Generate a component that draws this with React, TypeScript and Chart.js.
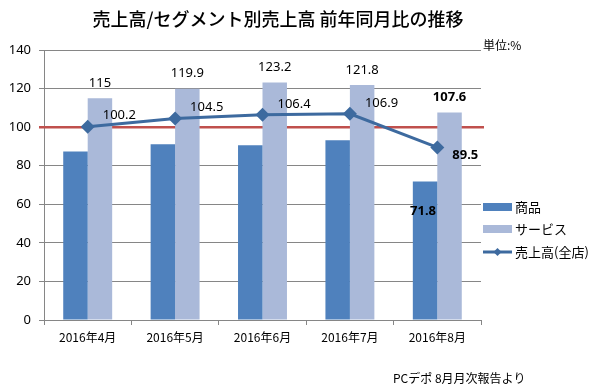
import React, { useEffect, useRef } from "react";
import { Chart, registerables } from "chart.js";

Chart.register(...registerables);

const categories = ["2016年4月", "2016年5月", "2016年6月", "2016年7月", "2016年8月"];
const goods = [87.4, 91.1, 90.6, 93.2, 71.8];
const services = [115, 119.9, 123.2, 121.8, 107.6];
const totalSales = [100.2, 104.5, 106.4, 106.9, 89.5];
const seriesNames = ["商品", "サービス", "売上高(全店)"];
const baseline = 100;
const titleText = "売上高/セグメント別売上高 前年同月比の推移";
const unitText = "単位:%";
const sourceText = "PCデポ 8月月次報告より";

const GOODS_COLOR = "#4f81bd";
const SERVICE_COLOR = "#aab9d9";
const LINE_COLOR = "#3d6a9f";
const RED = "#c0504d";
const JP = '"Noto Sans CJK JP", "Noto Sans", sans-serif';
const NUM = '"Noto Sans", "DejaVu Sans", sans-serif';

const decorPlugin = {
  id: "decor",
  beforeDatasetsDraw(chart: any) {
    const { ctx, chartArea, scales } = chart;
    const y = scales.y.getPixelForValue(baseline);
    ctx.save();
    ctx.strokeStyle = RED;
    ctx.lineWidth = 2.5;
    ctx.beginPath();
    ctx.moveTo(chartArea.left - 5, y);
    ctx.lineTo(chartArea.right + 3, y);
    ctx.stroke();
    ctx.restore();
  },
  afterDraw(chart: any) {
    const { ctx, chartArea } = chart;
    ctx.save();
    ctx.fillStyle = "#000";
    // title
    ctx.font = `500 18px ${JP}`;
    ctx.textAlign = "center";
    ctx.textBaseline = "middle";
    ctx.fillText(titleText, 270, 11);
    // unit
    ctx.font = `12px ${JP}`;
    ctx.textAlign = "left";
    ctx.fillText(unitText, chartArea.right + 2, chartArea.top - 5);
    // source
    ctx.fillText(sourceText, 385, 370);

    // data labels
    const metaL = chart.getDatasetMeta(0);
    const metaG = chart.getDatasetMeta(1);
    const metaS = chart.getDatasetMeta(2);
    ctx.textBaseline = "middle";
    services.forEach((v, i) => {
      const el = metaS.data[i];
      const last = i === services.length - 1;
      ctx.font = `${last ? "bold " : ""}13px ${NUM}`;
      ctx.textAlign = "center";
      ctx.fillText(String(v), el.x, el.y - 15);
    });
    totalSales.forEach((v, i) => {
      const el = metaL.data[i];
      const last = i === totalSales.length - 1;
      ctx.font = `${last ? "bold " : ""}13px ${NUM}`;
      ctx.textAlign = "left";
      ctx.fillText(String(v), el.x + 15, el.y + (last ? 8 : -11));
    });
    {
      const i = goods.length - 1;
      const el = metaG.data[i];
      ctx.font = `bold 13px ${NUM}`;
      ctx.textAlign = "center";
      ctx.fillText(String(goods[i]), el.x - 2, el.y + 30);
    }

    // legend
    const lx = chartArea.right + 2;
    const ys = [199, 221, 244];
    ctx.font = `13px ${JP}`;
    ctx.textAlign = "left";
    ctx.fillStyle = GOODS_COLOR;
    ctx.fillRect(lx, ys[0] - 4, 29, 8);
    ctx.fillStyle = SERVICE_COLOR;
    ctx.fillRect(lx, ys[1] - 4, 29, 8);
    ctx.strokeStyle = LINE_COLOR;
    ctx.lineWidth = 3;
    ctx.beginPath();
    ctx.moveTo(lx, ys[2]);
    ctx.lineTo(lx + 29, ys[2]);
    ctx.stroke();
    ctx.fillStyle = LINE_COLOR;
    const cx = lx + 14.5;
    ctx.beginPath();
    ctx.moveTo(cx, ys[2] - 4);
    ctx.lineTo(cx + 4, ys[2]);
    ctx.lineTo(cx, ys[2] + 4);
    ctx.lineTo(cx - 4, ys[2]);
    ctx.closePath();
    ctx.fill();
    ctx.fillStyle = "#000";
    seriesNames.forEach((n, k) => ctx.fillText(n, lx + 32, ys[k]));
    ctx.restore();
  },
};

export default function App() {
  const ref = useRef<HTMLCanvasElement | null>(null);
  useEffect(() => {
    if (!ref.current) return;
    const chart = new Chart(ref.current, {
      type: "bar",
      data: {
        labels: categories,
        datasets: [
          {
            type: "line",
            label: seriesNames[2],
            data: totalSales,
            borderColor: LINE_COLOR,
            backgroundColor: LINE_COLOR,
            borderWidth: 3,
            pointStyle: "rectRot",
            pointRadius: 7,
            pointBackgroundColor: LINE_COLOR,
            pointBorderWidth: 0,
            order: 0,
          } as any,
          {
            label: seriesNames[0],
            data: goods,
            backgroundColor: GOODS_COLOR,
            barPercentage: 1,
            categoryPercentage: 0.56,
            order: 1,
          },
          {
            label: seriesNames[1],
            data: services,
            backgroundColor: SERVICE_COLOR,
            barPercentage: 1,
            categoryPercentage: 0.56,
            order: 1,
          },
        ],
      },
      options: {
        animation: false,
        responsive: false,
        maintainAspectRatio: false,
        layout: { padding: { top: 42, right: 111, left: 0, bottom: 0 } },
        plugins: {
          legend: { display: false },
          title: { display: false },
          tooltip: { enabled: false },
        },
        scales: {
          x: {
            grid: {
              display: true,
              drawOnChartArea: false,
              drawTicks: true,
              tickLength: 5,
              color: "#868686",
              offset: true,
            },
            border: { display: true, color: "#868686", width: 1 },
            ticks: {
              color: "#000",
              font: { family: JP, size: 12 },
              padding: 5,
            },
            afterFit: (s: any) => {
              s.height = 64;
            },
          },
          y: {
            min: 0,
            max: 140,
            ticks: {
              stepSize: 20,
              color: "#000",
              font: { family: NUM, size: 13 },
              padding: 8,
            },
            grid: { color: "#868686", tickLength: 5, drawTicks: true },
            border: { display: true, color: "#868686" },
            afterFit: (s: any) => {
              s.width = 36;
            },
          },
        },
      },
      plugins: [decorPlugin],
    } as any);
    return () => chart.destroy();
  }, []);
  return (
    <div style={{ width: 584, height: 376 }}>
      <canvas ref={ref} width={584} height={376} />
    </div>
  );
}
